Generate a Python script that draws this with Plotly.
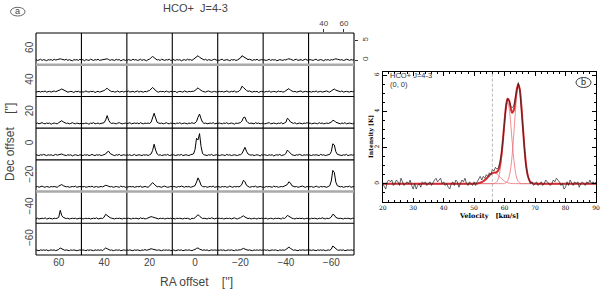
import numpy as np
import plotly.graph_objects as go

W, H = 600, 296

# ---------------- data : panel (a) map of spectra ----------------
ra_offsets = [60, 40, 20, 0, -20, -40, -60]      # arcsec, columns left -> right
dec_offsets = [60, 40, 20, 0, -20, -40, -60]     # arcsec, rows top -> bottom
grid_velocity = np.arange(25.0, 70.01, 1.5)      # km/s channels of the small spectra
grid_vel_ticks = [40, 60]
grid_int_ticks = [0, 5]

spec_dec_p60 = [
    [0.1,-0.1,0.0,0.2,-0.1, 0.1,0.0,-0.2,0.1,0.0, 0.1,-0.1,0.2,0.0,0.1, 0.2,0.3,0.2,0.1,0.0, 0.2,-0.1,0.1,0.0,-0.2, 0.1,0.0,0.1,-0.1,0.2, 0.0],
    [0.0,0.1,-0.2,0.1,0.0, -0.1,0.2,0.0,-0.1,0.1, 0.0,0.2,-0.1,0.0,0.1, 0.2,0.3,0.3,0.1,-0.1, 0.1,0.0,-0.1,0.2,0.0, 0.1,-0.2,0.0,0.1,-0.1, 0.1],
    [-0.1,0.1,0.0,-0.1,0.2, 0.0,0.1,-0.1,0.0,0.2, -0.1,0.1,0.0,-0.2,0.1, 0.2,0.6,0.9,0.6,0.2, 0.0,0.1,-0.1,0.2,0.0, -0.1,0.1,0.0,0.2,-0.1, 0.0],
    [0.2,0.0,-0.1,0.1,0.0, 0.1,-0.2,0.0,0.1,-0.1, 0.2,0.0,0.1,-0.1,0.2, 0.4,0.8,1.1,0.7,0.4, 0.1,0.0,0.2,-0.1,0.1, 0.0,-0.1,0.1,0.2,0.0, -0.1],
    [0.0,-0.1,0.1,0.2,-0.1, 0.0,0.1,0.0,-0.2,0.1, 0.0,0.1,-0.1,0.0,0.2, 0.5,1.1,0.9,0.5,0.3, 0.1,0.2,0.0,-0.1,0.1, 0.0,0.2,-0.1,0.0,0.1, 0.0],
    [0.1,0.0,-0.1,0.0,0.2, -0.1,0.1,0.0,0.1,-0.2, 0.0,0.1,0.0,-0.1,0.1, 0.0,0.2,0.3,0.2,0.0, -0.1,0.1,0.2,-0.1,0.0, 0.1,-0.1,0.0,0.2,0.0, -0.1],
    [0.0,0.1,0.0,-0.1,0.1, 0.2,-0.1,0.0,0.1,0.0, -0.2,0.1,0.0,0.1,-0.1, 0.1,0.0,0.2,0.3,0.2, 0.1,0.0,0.1,-0.1,0.0, 0.2,0.1,-0.1,0.1,0.0, 0.1],
]
spec_dec_p40 = [
    [-0.1,0.0,0.1,-0.1,0.1, 0.0,0.2,-0.1,0.0,0.1, -0.1,0.0,0.2,0.0,0.1, 0.2,0.5,0.7,0.5,0.2, 0.1,-0.1,0.0,0.1,0.0, -0.2,0.1,0.0,0.1,-0.1, 0.0],
    [0.1,-0.1,0.0,0.2,0.0, -0.1,0.1,0.0,0.1,-0.2, 0.0,0.1,-0.1,0.0,0.1, 0.3,0.6,0.9,0.5,0.2, 0.0,0.1,-0.1,0.0,0.2, -0.1,0.0,0.1,-0.1,0.1, 0.0],
    [0.0,0.2,-0.1,0.0,0.1, -0.1,0.0,0.2,-0.1,0.1, 0.0,-0.1,0.1,0.0,0.2, 0.3,0.7,1.1,0.7,0.2, 0.0,-0.1,0.1,0.0,0.1, -0.1,0.2,0.0,-0.1,0.1, 0.0],
    [0.1,0.0,0.1,-0.2,0.0, 0.1,0.0,-0.1,0.2,0.0, -0.1,0.1,0.0,0.1,0.1, 0.3,0.6,1.0,0.6,0.3, 0.1,0.0,-0.1,0.1,0.2, 0.0,-0.1,0.0,0.1,-0.1, 0.1],
    [-0.1,0.1,0.0,0.1,-0.1, 0.0,0.2,0.0,-0.1,0.1, 0.0,0.2,-0.1,0.0,0.1, 0.5,1.4,1.1,0.6,0.3, 0.1,0.2,0.0,-0.1,0.1, 0.0,0.1,-0.2,0.0,0.1, 0.0],
    [0.0,-0.1,0.1,0.0,0.2, -0.1,0.0,0.1,0.0,-0.1, 0.2,0.0,0.1,-0.1,0.0, 0.2,0.6,0.8,0.4,0.2, 0.0,0.1,-0.1,0.0,0.1, 0.2,-0.1,0.0,0.1,0.0, -0.1],
    [0.1,0.0,-0.1,0.1,0.0, 0.2,-0.1,0.0,0.1,-0.1, 0.0,0.1,0.2,0.0,-0.1, 0.2,0.5,0.7,0.4,0.3, 0.1,0.0,0.2,-0.1,0.0, 0.1,0.0,-0.1,0.1,0.0, 0.2],
]
spec_dec_p20 = [
    [0.0,0.1,-0.1,0.0,0.2, 0.0,-0.1,0.1,0.0,0.1, -0.2,0.0,0.1,0.0,-0.1, 0.2,0.5,0.7,0.4,0.1, 0.0,0.1,-0.1,0.0,0.2, 0.0,-0.1,0.1,0.0,-0.1, 0.1],
    [0.1,-0.1,0.0,0.1,0.0, -0.2,0.1,0.0,0.2,-0.1, 0.0,0.1,-0.1,0.0,0.1, 0.2,0.9,2.0,0.8,0.2, 0.0,0.1,0.0,-0.1,0.1, 0.2,0.0,-0.1,0.0,0.1, -0.1],
    [-0.1,0.0,0.2,-0.1,0.0, 0.1,0.0,0.1,-0.1,0.2, 0.0,-0.1,0.1,0.0,0.1, 0.0,0.3,1.3,2.6,1.4, 0.3,0.1,0.0,0.1,-0.1, 0.0,0.2,0.0,-0.1,0.1, 0.0],
    [0.1,0.0,-0.1,0.1,0.0, 0.2,-0.1,0.0,0.1,0.0, -0.1,0.1,0.0,0.2,0.0, 0.1,0.5,1.6,2.4,1.2, 0.3,0.0,0.1,-0.1,0.0, 0.1,0.0,0.2,-0.1,0.0, 0.1],
    [0.0,0.1,0.0,-0.1,0.1, 0.0,0.2,-0.1,0.0,0.1, 0.0,-0.2,0.1,0.0,0.1, 0.2,0.6,1.5,1.6,0.6, 0.2,0.0,0.1,0.0,-0.1, 0.2,0.0,0.1,-0.1,0.0, 0.1],
    [0.1,-0.1,0.0,0.1,0.2, -0.1,0.0,0.1,0.0,-0.1, 0.1,0.0,0.2,-0.1,0.1, 0.3,1.3,1.0,0.4,0.1, 0.0,0.2,-0.1,0.0,0.1, 0.0,-0.1,0.1,0.0,0.2, 0.0],
    [0.0,0.1,-0.1,0.0,0.1, 0.0,-0.1,0.2,0.0,0.1, -0.1,0.0,0.1,0.0,0.1, 0.3,0.8,0.7,0.3,0.2, 0.0,-0.1,0.1,0.0,0.2, -0.1,0.0,0.1,0.0,-0.1, 0.1],
]
spec_dec_0 = [
    [0.1,0.0,-0.1,0.1,0.0, 0.2,0.0,-0.1,0.1,0.0, 0.1,-0.1,0.0,0.2,0.0, 0.1,0.3,0.3,0.1,0.0, -0.1,0.1,0.0,0.1,-0.2, 0.0,0.1,0.0,-0.1,0.1, 0.0],
    [0.0,-0.1,0.1,0.0,0.1, -0.1,0.0,0.2,0.0,-0.1, 0.1,0.0,0.1,-0.1,0.0, 0.1,0.3,0.8,1.0,0.4, 0.1,0.0,-0.1,0.1,0.0, 0.2,-0.1,0.0,0.1,0.0, -0.1],
    [0.1,0.0,0.1,-0.1,0.0, 0.2,-0.1,0.0,0.1,0.0, -0.1,0.1,0.0,0.1,-0.1, 0.1,0.3,1.2,2.8,1.3, 0.3,0.0,0.1,-0.1,0.0, 0.1,0.0,0.2,-0.1,0.0, 0.1],
    [0.0,0.1,-0.1,0.0,0.1, 0.0,0.2,-0.1,0.0,0.1, 0.0,-0.1,0.1,0.2,0.3, 1.4,4.3,3.9,5.5,2.2, 0.4,0.1,0.0,-0.1,0.1, 0.0,0.2,-0.1,0.0,0.1, 0.0],
    [0.1,-0.1,0.0,0.1,0.0, -0.1,0.2,0.0,0.1,-0.1, 0.0,0.1,0.0,-0.1,0.1, 0.1,0.4,1.1,2.0,1.0, 0.3,0.1,0.0,0.1,-0.1, 0.0,0.1,0.0,-0.2,0.1, 0.0],
    [0.0,0.1,0.0,-0.1,0.1, 0.0,0.1,-0.2,0.0,0.1, 0.0,0.2,-0.1,0.0,0.1, 0.4,1.3,0.9,0.4,0.1, 0.0,-0.1,0.1,0.0,0.2, 0.0,-0.1,0.1,0.0,0.1, -0.1],
    [0.1,0.0,-0.1,0.1,0.0, 0.1,0.0,-0.1,0.2,0.0, 0.1,-0.1,0.0,0.1,0.2, 0.9,2.9,2.6,0.9,0.2, 0.1,0.0,-0.1,0.1,0.0, 0.2,-0.1,0.0,0.1,0.0, 0.1],
]
spec_dec_m20 = [
    [0.0,0.1,-0.1,0.0,0.2, 0.0,-0.1,0.1,0.0,-0.1, 0.1,0.0,0.1,0.0,-0.1, 0.2,0.5,0.6,0.3,0.1, 0.0,0.1,-0.1,0.0,0.1, 0.0,0.2,-0.1,0.0,0.1, 0.0],
    [0.1,0.0,0.1,-0.1,0.0, 0.1,0.0,0.2,-0.1,0.0, 0.1,-0.1,0.0,0.1,0.0, 0.2,0.4,0.3,0.2,0.0, 0.1,-0.1,0.0,0.1,0.0, -0.1,0.2,0.0,0.1,-0.1, 0.0],
    [-0.1,0.0,0.1,0.0,0.1, -0.1,0.0,0.1,0.0,0.2, -0.1,0.0,0.1,0.0,-0.1, 0.2,0.6,1.1,0.7,0.2, 0.0,0.1,0.0,-0.1,0.1, 0.2,0.0,-0.1,0.0,0.1, 0.0],
    [0.0,0.1,0.0,-0.1,0.1, 0.0,0.2,0.0,-0.1,0.1, 0.0,0.1,-0.1,0.0,0.1, 0.3,1.2,2.3,1.5,0.4, 0.1,0.0,0.1,-0.1,0.0, 0.1,0.0,0.2,-0.1,0.0, 0.1],
    [0.1,0.0,-0.1,0.1,0.0, 0.1,-0.1,0.0,0.2,0.0, -0.1,0.1,0.0,0.1,0.0, 0.2,0.7,1.7,1.3,0.4, 0.1,-0.1,0.0,0.1,0.0, 0.2,-0.1,0.0,0.1,0.0, -0.1],
    [0.0,-0.1,0.1,0.0,0.1, 0.0,-0.1,0.2,0.0,0.1, -0.1,0.0,0.1,0.0,0.2, 0.2,0.6,1.3,1.0,0.3, 0.1,0.0,0.1,-0.1,0.0, 0.1,0.2,0.0,-0.1,0.1, 0.0],
    [0.1,0.0,0.1,-0.1,0.0, 0.2,0.0,-0.1,0.1,0.0, 0.1,0.0,-0.1,0.1,0.3, 1.5,4.2,3.7,1.2,0.3, 0.1,0.0,0.1,-0.1,0.0, 0.1,0.0,0.2,-0.1,0.0, 0.1],
]
spec_dec_m40 = [
    [0.0,0.1,-0.1,0.0,0.1, 0.0,0.2,-0.1,0.0,0.1, 0.0,-0.1,0.1,0.0,0.1, 0.3,2.1,0.8,0.3,0.1, 0.0,0.1,-0.1,0.0,0.1, 0.0,0.1,-0.1,0.0,0.1, 0.0],
    [0.1,-0.1,0.0,0.1,0.0, 0.1,-0.1,0.0,0.1,0.0, 0.2,-0.1,0.0,0.1,0.0, 0.4,1.1,0.8,0.4,0.2, 0.1,0.0,-0.1,0.1,0.0, 0.1,0.0,-0.1,0.1,0.0, 0.1],
    [0.0,0.1,0.0,-0.1,0.1, 0.0,0.1,0.0,-0.1,0.2, 0.0,0.1,-0.1,0.0,0.1, 0.2,0.5,0.4,0.3,0.2, 0.0,-0.1,0.1,0.0,0.1, -0.1,0.0,0.1,0.0,0.1, -0.1],
    [0.1,0.0,-0.1,0.1,0.0, 0.1,0.0,-0.1,0.1,0.0, 0.1,0.0,-0.2,0.1,0.0, 0.2,0.6,1.0,0.6,0.2, 0.0,0.1,0.0,-0.1,0.1, 0.0,0.2,0.0,-0.1,0.1, 0.0],
    [0.0,0.1,0.0,0.1,-0.1, 0.0,0.1,0.0,0.1,-0.1, 0.0,0.2,0.0,-0.1,0.1, 0.2,0.5,0.7,0.4,0.1, 0.0,0.1,-0.1,0.0,0.1, 0.0,-0.1,0.1,0.0,0.1, 0.0],
    [0.1,0.0,0.1,-0.1,0.0, 0.1,0.0,-0.1,0.1,0.0, 0.1,0.0,-0.1,0.2,0.0, 0.3,0.8,0.6,0.3,0.1, 0.0,-0.1,0.1,0.0,0.1, 0.0,0.1,-0.1,0.0,0.1, 0.0],
    [0.0,-0.1,0.1,0.0,0.1, 0.0,-0.1,0.1,0.0,0.2, 0.0,-0.1,0.1,0.0,0.1, 0.4,1.1,0.9,0.3,0.1, 0.0,0.1,0.0,-0.1,0.1, 0.0,0.1,0.0,-0.1,0.1, 0.0],
]
spec_dec_m60 = [
    [0.1,0.0,-0.1,0.1,0.0, 0.1,0.0,0.1,-0.1,0.0, 0.1,0.0,0.1,-0.1,0.0, 0.2,0.6,0.4,0.2,0.0, 0.1,0.0,-0.1,0.1,0.0, 0.1,0.0,-0.1,0.0,0.1, 0.0],
    [0.0,0.1,0.0,-0.1,0.1, 0.0,0.1,0.0,-0.1,0.1, 0.0,0.1,0.0,0.1,-0.1, 0.3,0.6,0.4,0.1,0.0, 0.1,-0.1,0.0,0.1,0.0, 0.1,-0.1,0.0,0.1,0.0, 0.1],
    [0.1,0.0,0.1,0.0,-0.1, 0.1,0.0,0.1,0.0,-0.1, 0.1,0.0,0.2,0.0,0.1, 0.2,0.4,0.3,0.2,0.1, 0.0,0.1,0.0,-0.1,0.1, 0.0,0.1,0.0,0.1,-0.1, 0.0],
    [0.0,0.1,-0.1,0.0,0.1, 0.0,0.1,-0.1,0.0,0.1, 0.0,0.1,0.0,-0.1,0.1, 0.2,0.5,0.6,0.3,0.1, 0.0,0.1,0.0,0.1,-0.1, 0.0,0.1,0.0,0.1,0.0, 0.1],
    [0.1,0.0,0.1,0.0,0.1, -0.1,0.0,0.1,0.0,0.1, 0.0,-0.1,0.1,0.0,0.1, 0.1,0.3,0.5,0.3,0.1, 0.0,0.1,0.0,-0.1,0.1, 0.0,0.1,0.0,0.1,0.0, 0.1],
    [0.0,0.1,0.0,0.1,-0.1, 0.0,0.1,0.0,0.1,0.0, -0.1,0.1,0.0,0.1,0.0, 0.2,0.5,0.8,0.5,0.2, 0.0,0.1,0.0,-0.1,0.1, 0.0,0.1,0.0,0.0,0.1, 0.0],
    [0.1,0.0,0.0,0.1,0.0, -0.1,0.1,0.0,0.1,0.0, 0.1,-0.1,0.0,0.1,0.0, 0.3,1.1,0.7,0.3,0.1, 0.0,0.1,0.0,0.1,-0.1, 0.0,0.1,0.0,0.1,0.0, 0.1],
]
grid_rows = [spec_dec_p60, spec_dec_p40, spec_dec_p20, spec_dec_0,
             spec_dec_m20, spec_dec_m40, spec_dec_m60]

# ---------------- data : panel (b) spectrum at (0,0) ----------------
obs_velocity = np.arange(20.0, 90.01, 0.5)
obs_intensity = [
    0.0,-0.2,-0.3,0.1,0.2,0.1,0.2,-0.1,0.0,0.2,
    0.1,-0.1,0.3,0.1,-0.1,0.0,0.1,0.0,0.2,-0.1,
    -0.3,0.0,-0.3,-0.1,0.0,-0.2,0.1,0.0,0.1,-0.1,
    0.0,0.1,-0.1,0.1,0.2,0.3,0.1,0.2,0.3,0.0,
    0.1,-0.1,0.0,-0.2,-0.3,0.0,0.1,-0.1,0.2,0.1,
    -0.2,0.0,0.2,0.1,0.3,0.0,-0.1,0.1,0.0,-0.1,
    0.1,-0.1,0.1,0.3,0.4,0.2,0.4,0.3,0.5,0.4,
    0.6,0.5,0.8,0.7,0.9,0.8,0.9,1.2,1.7,2.5,
    3.5,4.4,4.7,4.6,4.3,4.2,4.3,4.8,5.3,5.6,
    5.2,4.3,3.1,2.0,1.0,0.5,0.2,0.0,0.1,-0.1,
    0.0,0.1,-0.1,0.0,0.1,-0.1,0.0,0.2,0.1,0.0,
    -0.1,0.0,0.2,0.1,0.3,0.2,0.1,-0.1,0.0,-0.3,
    -0.2,0.1,-0.1,0.2,0.0,-0.1,0.1,0.0,0.1,-0.2,
    0.0,0.1,0.0,-0.1,0.1,0.0,0.2,0.0,0.1,0.0,
    0.1,
]
fit_velocity = np.concatenate([[20.0], np.arange(50.0, 70.01, 0.5), [90.0]])
fit_total = [0.0,
    0.00,0.01,0.01,0.03,0.05,0.08,0.13,0.20,0.27,0.36,
    0.45,0.53,0.58,0.61,0.62,0.65,0.76,1.07,1.65,2.51,
    3.48,4.31,4.70,4.60,4.20,3.93,4.06,4.58,5.20,5.50,
    5.21,4.32,3.15,2.01,1.11,0.54,0.23,0.08,0.03,0.01,
    0.00, 0.0]
fit_comp1 = [0.0,
    0.00,0.01,0.01,0.03,0.05,0.08,0.13,0.20,0.27,0.36,
    0.45,0.53,0.58,0.60,0.58,0.53,0.45,0.36,0.27,0.20,
    0.13,0.08,0.05,0.03,0.01,0.01,0.0,0.0,0.0,0.0,
    0.0,0.0,0.0,0.0,0.0,0.0,0.0,0.0,0.0,0.0,
    0.0, 0.0]
fit_comp2 = [0.0,
    0.0,0.0,0.0,0.0,0.0,0.0,0.0,0.0,0.0,0.0,
    0.0,0.0,0.0,0.0,0.04,0.12,0.31,0.71,1.38,2.31,
    3.35,4.18,4.50,4.18,3.35,2.31,1.38,0.71,0.31,0.12,
    0.04,0.0,0.0,0.0,0.0,0.0,0.0,0.0,0.0,0.0,
    0.0, 0.0]
fit_comp3 = [0.0,
    0.0,0.0,0.0,0.0,0.0,0.0,0.0,0.0,0.0,0.0,
    0.0,0.0,0.0,0.0,0.0,0.0,0.0,0.0,0.0,0.0,
    0.0,0.05,0.15,0.39,0.84,1.61,2.68,3.87,4.89,5.38,
    5.17,4.32,3.15,2.01,1.11,0.54,0.23,0.08,0.03,0.01,
    0.0, 0.0]
v_sys = 56.0
panel_b_xticks = [20, 30, 40, 50, 60, 70, 80, 90]
panel_b_yticks = [0, 2, 4, 6]

# ---------------- geometry helpers ----------------
def px(x):
    return x / W

def py(y):
    return 1 - y / H

GX0, GX1 = px(36), px(354)
GY1, GY0 = py(33), py(255)
CW = (GX1 - GX0) / 7
RH = (GY1 - GY0) / 7

SANS = "Liberation Sans"
SERIF = "DejaVu Serif"
GRAY_TXT = "#444444"

fig = go.Figure()
layout = {}

for r, row in enumerate(grid_rows):
    for c, spec in enumerate(row):
        k = r * 7 + c + 1
        s = "" if k == 1 else str(k)
        fig.add_trace(go.Scatter(
            x=grid_velocity[:len(spec)], y=spec, mode="lines",
            line=dict(color="black", width=1.0),
            xaxis="x" + s, yaxis="y" + s, hoverinfo="skip", showlegend=False))
        xa = dict(domain=[GX0 + c * CW, GX0 + (c + 1) * CW], range=[25, 70],
                  anchor="y" + s, showline=False, showgrid=False, zeroline=False,
                  showticklabels=False, ticks="")
        ya = dict(domain=[GY1 - (r + 1) * RH, GY1 - r * RH], range=[-1.2, 6.9],
                  anchor="x" + s, showline=False, showgrid=False, zeroline=False,
                  showticklabels=False, ticks="")
        if r == 0 and c == 6:
            xa.update(side="top", ticks="outside", ticklen=3, tickcolor="#333",
                      tickvals=grid_vel_ticks, showticklabels=True,
                      tickfont=dict(size=8, color=GRAY_TXT, family=SANS))
            ya.update(side="right", ticks="outside", ticklen=3, tickcolor="#333",
                      tickvals=grid_int_ticks, showticklabels=True, tickangle=-90,
                      tickfont=dict(size=8, color=GRAY_TXT, family=SANS))
        layout["xaxis" + s] = xa
        layout["yaxis" + s] = ya

# overlay RA / Dec offset axes
fig.add_trace(go.Scatter(x=[], y=[], xaxis="x50", yaxis="y50", showlegend=False))
layout["xaxis50"] = dict(domain=[GX0, GX1], range=[70, -70], anchor="y50",
                         tickvals=ra_offsets, ticks="", showline=False,
                         showgrid=False, zeroline=False,
                         tickfont=dict(size=10, color=GRAY_TXT, family=SANS))
layout["yaxis50"] = dict(domain=[GY0, GY1], range=[-70, 70], anchor="x50",
                         tickvals=dec_offsets, ticks="", showline=False,
                         showgrid=False, zeroline=False, tickangle=-90,
                         tickfont=dict(size=10, color=GRAY_TXT, family=SANS))

# panel (b)
for comp in (fit_comp1, fit_comp2, fit_comp3):
    fig.add_trace(go.Scatter(x=fit_velocity, y=comp, mode="lines",
                             line=dict(color="#e8707a", width=0.8, shape="spline"),
                             xaxis="x51", yaxis="y51", hoverinfo="skip",
                             showlegend=False))
fig.add_trace(go.Scatter(x=fit_velocity, y=fit_total, mode="lines",
                         line=dict(color="#d42a30", width=2.0, shape="spline"),
                         xaxis="x51", yaxis="y51", hoverinfo="skip",
                         showlegend=False))
fig.add_trace(go.Scatter(x=obs_velocity, y=obs_intensity, mode="lines",
                         line=dict(color="#222222", width=0.7),
                         xaxis="x51", yaxis="y51", hoverinfo="skip",
                         showlegend=False))
layout["xaxis51"] = dict(domain=[px(382.7), px(596)], range=[20, 90], anchor="y51",
                         showline=True, mirror="allticks", linecolor="black",
                         linewidth=1, ticks="inside", ticklen=4, tickcolor="black",
                         tickvals=panel_b_xticks,
                         minor=dict(dtick=2, ticks="inside", ticklen=2,
                                    tickcolor="black"),
                         showgrid=False, zeroline=False,
                         tickfont=dict(size=6, color="black", family=SERIF))
layout["yaxis51"] = dict(domain=[py(201.7), py(71.7)], range=[-1.0, 6.2],
                         anchor="x51", showline=True, mirror="allticks",
                         linecolor="black", linewidth=1, ticks="inside",
                         ticklen=4, tickcolor="black", tickvals=panel_b_yticks,
                         minor=dict(dtick=0.5, ticks="inside", ticklen=2,
                                    tickcolor="black"),
                         showgrid=False, zeroline=False, tickangle=-90,
                         tickfont=dict(size=6, color="black", family=SERIF))

shapes = [
    dict(type="line", xref="x51", yref="y51 domain", x0=v_sys, x1=v_sys,
         y0=0, y1=1, line=dict(color="#999999", width=0.7, dash="3px,2px")),
]
# cell borders of the map
for cb in range(8):
    xb = GX0 + cb * CW
    shapes.append(dict(type="line", xref="paper", yref="paper", x0=xb, x1=xb,
                       y0=GY0, y1=GY1, line=dict(color="black", width=1.1)))
for rb in range(8):
    yb = GY1 - rb * RH
    shapes.append(dict(type="line", xref="paper", yref="paper", x0=GX0, x1=GX1,
                       y0=yb, y1=yb, line=dict(color="black", width=1.1)))
for kb in (1, 5):
    yb = GY1 - kb * RH
    shapes.append(dict(type="line", xref="paper", yref="paper", x0=GX0, x1=GX1,
                       y0=yb, y1=yb, line=dict(color="#aaaaaa", width=2.5)))
shapes.append(dict(type="circle", xref="paper", yref="paper",
                   x0=px(10.5), x1=px(25), y0=py(16), y1=py(7.3),
                   line=dict(color="#555555", width=0.9)))
shapes.append(dict(type="circle", xref="paper", yref="paper",
                   x0=px(576), x1=px(591), y0=py(87.5), y1=py(77.5),
                   line=dict(color="#222222", width=0.9)))

NB = "\u00a0"

def ann(text, x, y, size, color=GRAY_TXT, family=SANS, angle=0, xanchor="center"):
    return dict(text=text, x=px(x), y=py(y), xref="paper", yref="paper",
                showarrow=False, xanchor=xanchor, yanchor="middle",
                textangle=angle, font=dict(size=size, color=color, family=family))

annotations = [
    ann("a", 17.8, 11.3, 9),
    ann("b", 583.5, 82.2, 9, color="#222222"),
    ann("HCO+" + NB * 2 + "J=4-3", 195, 8, 11),
    ann("RA offset" + NB * 4 + "['']", 196, 282, 12),
    ann("Dec offset" + NB * 4 + "['']", 10, 142, 12, angle=-90),
    ann("<b>Velocity" + NB * 3 + "[km/s]</b>", 489, 216, 6.5, color="black", family=SERIF),
    ann("<b>Intensity [K]</b>", 371, 137, 6, color="black", family=SERIF, angle=-90),
    ann("HCO+ J=4-3", 387.5, 75, 7.5, color="#333333", xanchor="left"),
    ann("(0, 0)", 387.5, 84, 7.5, color="#333333", xanchor="left"),
]

fig.update_layout(
    template="none",
    width=W, height=H, autosize=False,
    margin=dict(l=0, r=0, t=0, b=0),
    paper_bgcolor="white", plot_bgcolor="rgba(0,0,0,0)",
    showlegend=False,
    shapes=shapes, annotations=annotations,
    **layout,
)

fig.write_html(
    "out.html",
    config={"displayModeBar": False, "staticPlot": True},
    post_script="document.body.style.margin='0px';document.body.style.overflow='hidden';",
)
